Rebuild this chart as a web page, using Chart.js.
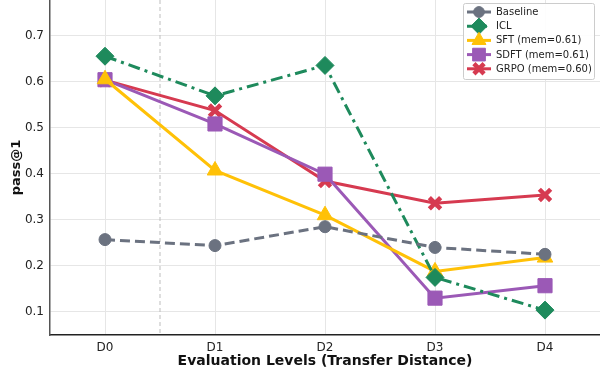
<!DOCTYPE html>
<html>
<head>
<meta charset="utf-8">
<script src="https://cdn.jsdelivr.net/npm/chart.js@4"></script>
<style>
  html, body { margin: 0; padding: 0; background: #fff; }
</style>
</head>
<body>
<canvas id="passChart" width="600" height="377"></canvas>
<script>
const levels = ['D0', 'D1', 'D2', 'D3', 'D4'];
const yTicks = [0.1, 0.2, 0.3, 0.4, 0.5, 0.6, 0.7];

const baseline = [0.257, 0.244, 0.285, 0.240, 0.225];
const icl = [0.655, 0.569, 0.635, 0.175, 0.104];
const sft = [0.605, 0.407, 0.310, 0.188, 0.218];
const sdft = [0.604, 0.508, 0.399, 0.130, 0.157];
const grpo = [0.603, 0.537, 0.384, 0.336, 0.354];

// dashed vertical separator between D0 and D1
const separator = {
    id: 'separator',
    beforeDatasetsDraw(chart) {
        const ctx = chart.ctx;
        const x = chart.scales.x.getPixelForValue(0.5);
        ctx.save();
        ctx.strokeStyle = '#bdbdbd';
        ctx.lineWidth = 1;
        ctx.setLineDash([4, 3]);
        ctx.beginPath();
        ctx.moveTo(x, chart.chartArea.top);
        ctx.lineTo(x, chart.chartArea.bottom);
        ctx.stroke();
        ctx.restore();
    }
};

// legend drawn like matplotlib: line segment + marker
const lineLegend = {
    id: 'lineLegend',
    afterDraw(chart) {
        const ctx = chart.ctx;
        const x0 = 463, y0 = 3, w = 131, h = 76, rowH = 14.2;
        ctx.save();
        ctx.fillStyle = 'rgba(255,255,255,0.9)';
        ctx.strokeStyle = '#cccccc';
        ctx.lineWidth = 1;
        ctx.beginPath();
        ctx.roundRect(x0 + 0.5, y0 + 0.5, w, h, 2);
        ctx.fill();
        ctx.stroke();
        chart.data.datasets.forEach((ds, i) => {
            const y = y0 + 9 + i * rowH;
            ctx.strokeStyle = ds.borderColor;
            ctx.lineWidth = 3;
            ctx.setLineDash(ds.borderDash || []);
            ctx.beginPath();
            ctx.moveTo(467, y);
            ctx.lineTo(491, y);
            ctx.stroke();
            ctx.setLineDash([]);
            ctx.fillStyle = ds.borderColor;
            ctx.strokeStyle = ds.borderColor;
            ctx.lineWidth = ds.pointBorderWidth;
            Chart.helpers.drawPoint(ctx, {
                pointStyle: ds.pointStyle,
                radius: ds.pointRadius * 0.9,
                rotation: 0,
                borderWidth: ds.pointBorderWidth
            }, 479, y);
            ctx.fillStyle = '#222';
            ctx.font = '10px "DejaVu Sans"';
            ctx.textBaseline = 'middle';
            ctx.textAlign = 'left';
            ctx.fillText(ds.label, 496, y + 0.5);
        });
        ctx.restore();
    }
};

function series(label, data, color, style, radius, dash, bw) {
    return {
        label: label,
        data: data,
        borderColor: color,
        backgroundColor: color,
        pointBackgroundColor: color,
        pointBorderColor: color,
        borderWidth: 3,
        borderDash: dash,
        pointStyle: style,
        pointRadius: radius,
        pointHoverRadius: radius,
        pointBorderWidth: bw,
        tension: 0
    };
}

var ctx = document.getElementById('passChart').getContext('2d');
var passChart = new Chart(ctx, {
    type: 'line',
    data: {
        labels: levels,
        datasets: [
            series('Baseline', baseline, '#6b7280', 'circle', 6, [10, 5], 1),
            series('ICL', icl, '#1e8a5c', 'rectRot', 9, [12, 5, 3, 5], 1),
            series('SFT (mem=0.61)', sft, '#ffc107', 'triangle', 9, [], 1),
            series('SDFT (mem=0.61)', sdft, '#9b59b6', 'rect', 10, [], 1),
            series('GRPO (mem=0.60)', grpo, '#d63a50', 'crossRot', 8, [], 4.5)
        ]
    },
    options: {
        responsive: false,
        animation: false,
        layout: { autoPadding: false, padding: { top: 0, right: 0, left: 9, bottom: 7 } },
        plugins: {
            legend: { display: false },
            tooltip: { enabled: false }
        },
        scales: {
            x: {
                offset: true,
                grid: { color: '#e6e6e6', lineWidth: 1, offset: false, drawTicks: false },
                border: { color: '#222', width: 1.5 },
                ticks: { color: '#222', autoSkip: false, maxRotation: 0, font: { family: 'DejaVu Sans', size: 12 }, padding: 6 },
                title: {
                    display: true,
                    text: 'Evaluation Levels (Transfer Distance)',
                    color: '#111',
                    font: { family: 'DejaVu Sans', size: 14, weight: 'bold' },
                    padding: { top: 0, bottom: 0 }
                },
                afterFit(scale) {
                    scale.height = 35;
                    scale.paddingLeft = 0;
                    scale.paddingRight = 0;
                }
            },
            y: {
                min: 0.05,
                max: 0.777,
                grid: { color: '#e6e6e6', lineWidth: 1, drawTicks: false },
                border: { color: '#555', width: 1.5 },
                afterBuildTicks(axis) { axis.ticks = yTicks.map(v => ({ value: v })); },
                ticks: {
                    color: '#222',
                    autoSkip: false,
                    font: { family: 'DejaVu Sans', size: 12 },
                    padding: 6,
                    callback: v => v.toFixed(1)
                },
                title: {
                    display: true,
                    text: 'pass@1',
                    color: '#111',
                    font: { family: 'DejaVu Sans', size: 13, weight: 'bold' },
                    padding: { top: 0, bottom: 2 }
                },
                afterFit(scale) {
                    scale.width = 41;
                    scale.paddingTop = 0;
                    scale.paddingBottom = 0;
                }
            }
        }
    },
    plugins: [separator, lineLegend]
});
</script>
</body>
</html>
